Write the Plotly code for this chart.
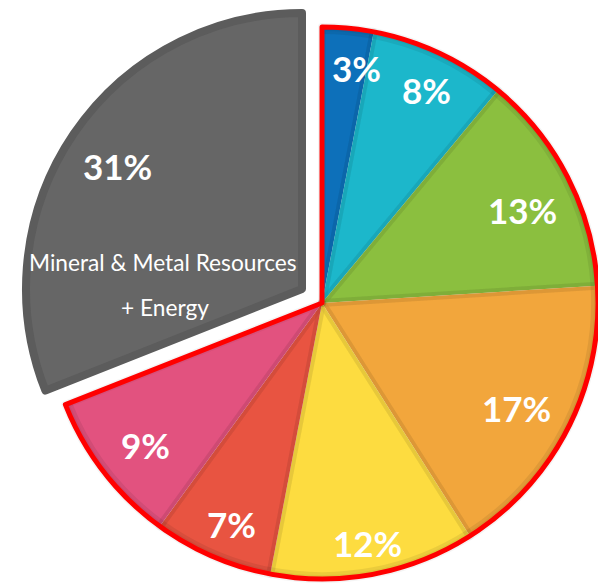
import math
import plotly.graph_objects as go

# ---- data -------------------------------------------------------------
categories = ["Segment 1", "Segment 2", "Segment 3", "Segment 4",
              "Segment 5", "Segment 6", "Segment 7",
              "Mineral & Metal Resources + Energy"]
values = [3, 8, 13, 17, 12, 7, 9, 31]
value_labels = ["3%", "8%", "13%", "17%", "12%", "7%", "9%", "31%"]
highlight_caption = ["Mineral & Metal Resources", "+ Energy"]

# ---- styling ----------------------------------------------------------
W, H = 598, 585
fills = ["#0D70BA", "#1CB7CB", "#8BBF3F", "#F2A63C",
         "#FDDC40", "#E85441", "#E2527F", "#666666"]
CLEAR = "rgba(0,0,0,0)"
GRAY_EDGE = "#5C5C5C"
OUTLINE = "#FF0000"

# geometry in pixels (page origin top-left)
MAIN_C = (322, 303)
MAIN_R = 276
GRAY_C = (302, 289)
GRAY_R = 276
GRAY_STROKE = 8

# label placement (fraction of radius along each slice's mid angle, degree nudge)
label_rfrac = [0.86, 0.86, 0.80, 0.80, 0.885, 0.865, 0.82, 0.79]
label_dang = [3.0, 1.0, 2.0, 1.3, 0.0, -1.2, -1.1, -0.5]


def domain(c, r):
    cx, cy = c
    x0, x1 = (cx - r) / W, (cx + r) / W
    y0, y1 = (H - cy - r) / H, (H - cy + r) / H
    return dict(x=[max(0, x0), min(1, x1)], y=[max(0, y0), min(1, y1)])


n = len(values)
last = n - 1
common = dict(values=values, labels=categories, sort=False,
              direction="clockwise", rotation=0, textinfo="none",
              showlegend=False)

fig = go.Figure()

# highlighted (pulled-out) slice, drawn on its own offset pie
fig.add_trace(go.Pie(
    **common,
    domain=domain(GRAY_C, GRAY_R),
    marker=dict(colors=[CLEAR] * last + [fills[last]],
                line=dict(color=[CLEAR] * last + [GRAY_EDGE],
                          width=[0] * last + [GRAY_STROKE])),
    hoverinfo="label+percent",
))

# remaining slices
fig.add_trace(go.Pie(
    **common,
    domain=domain(MAIN_C, MAIN_R),
    marker=dict(colors=fills[:last] + [CLEAR], line=dict(width=0)),
    hoverinfo="label+percent",
))

# soft darker band along the outer arc
fig.add_trace(go.Pie(
    **common,
    domain=domain(MAIN_C, MAIN_R),
    hole=0.975,
    marker=dict(colors=["rgba(0,0,0,0.07)"] * last + [CLEAR], line=dict(width=0)),
    hoverinfo="skip",
))

# soft darker band along the radial edges
fig.add_trace(go.Pie(
    **common,
    domain=domain(MAIN_C, MAIN_R),
    marker=dict(colors=[CLEAR] * n,
                line=dict(color=["rgba(0,0,0,0.045)"] * last + [CLEAR],
                          width=[8] * last + [0])),
    hoverinfo="skip",
))

# red outline around the group of smaller segments
fig.add_trace(go.Pie(
    values=[sum(values[:last]), values[last]],
    labels=["group", categories[last]],
    sort=False, direction="clockwise", rotation=0, textinfo="none",
    showlegend=False,
    domain=domain(MAIN_C, MAIN_R),
    marker=dict(colors=[CLEAR, CLEAR],
                line=dict(color=[OUTLINE, CLEAR], width=[5, 0])),
    hoverinfo="skip",
))

# ---- value labels -----------------------------------------------------
total = sum(values)
annotations = []
cum = 0.0
for i, v in enumerate(values):
    mid = (cum + v / 2) / total * 360.0 + label_dang[i]
    cum += v
    if i == last:
        cx, cy = GRAY_C
        r = GRAY_R + GRAY_STROKE / 2
    else:
        cx, cy = MAIN_C
        r = MAIN_R
    d = label_rfrac[i] * r
    px = cx + d * math.sin(math.radians(mid))
    py = cy - d * math.cos(math.radians(mid))
    annotations.append(dict(
        x=px / W, y=1 - py / H, xref="paper", yref="paper",
        text=value_labels[i], showarrow=False,
        xanchor="center", yanchor="middle",
        font=dict(family="Lato", size=35, color="white", weight="bold"),
    ))

# caption inside the highlighted slice
caption_offsets = [(-139, -27), (-137, 18)]
for txt, (dx, dy) in zip(highlight_caption, caption_offsets):
    px = GRAY_C[0] + dx
    py = GRAY_C[1] + dy
    annotations.append(dict(
        x=px / W, y=1 - py / H, xref="paper", yref="paper",
        text=txt, showarrow=False, xanchor="center", yanchor="middle",
        font=dict(family="Lato", size=22.7, color="white"),
    ))

fig.update_layout(
    width=W, height=H,
    margin=dict(l=0, r=0, t=0, b=0),
    paper_bgcolor="white", plot_bgcolor="white",
    annotations=annotations,
)

fig.write_html("out.html")
